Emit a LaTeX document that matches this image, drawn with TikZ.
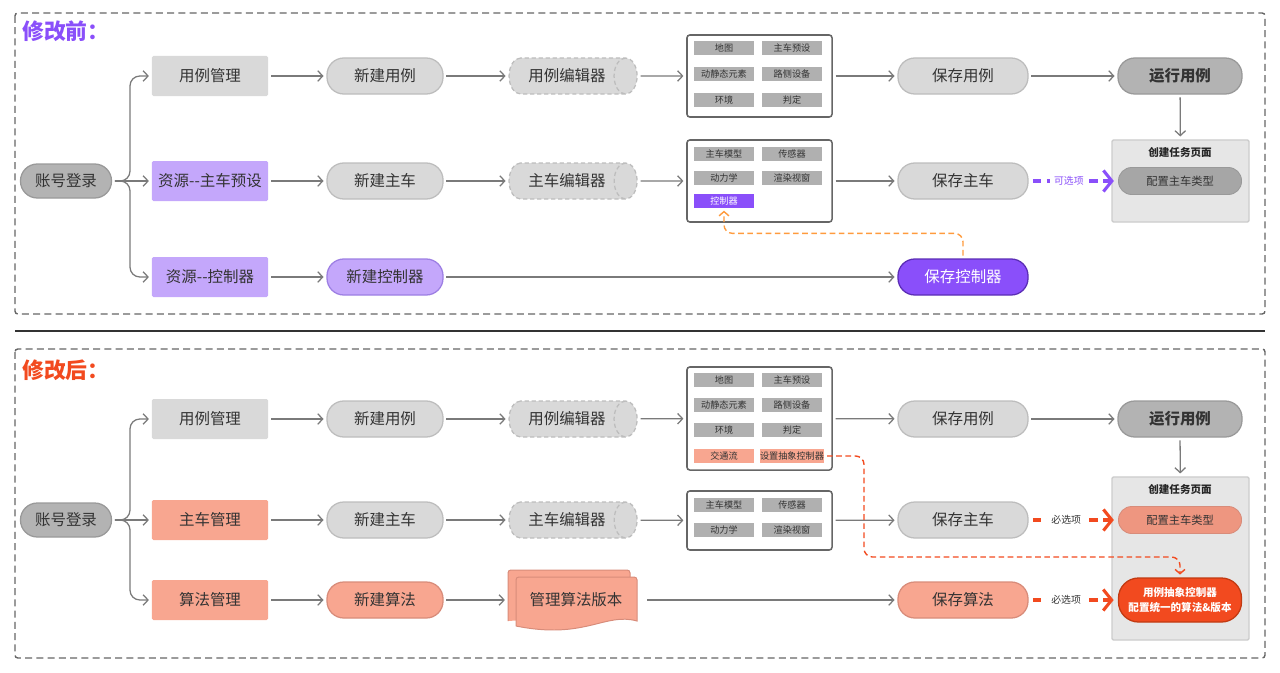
\documentclass[tikz,border=0pt]{standalone}
\usepackage{fontspec}
\usepackage{xcolor}
\usepackage{tikz}
\usetikzlibrary{shapes,arrows.meta,positioning,calc}
\newfontfamily\cjk{Noto Sans CJK SC}

\definecolor{lgray}{HTML}{D9D9D9}
\definecolor{lgrayline}{HTML}{BDBDBD}
\definecolor{dgray}{HTML}{B3B3B3}
\definecolor{dgrayline}{HTML}{999999}
\definecolor{itemgray}{HTML}{B0B0B0}
\definecolor{panelgray}{HTML}{E6E6E6}
\definecolor{lpurple}{HTML}{C4A7FB}
\definecolor{purpleline}{HTML}{9D7FE3}
\definecolor{vpurple}{HTML}{8A4FFA}
\definecolor{vpurpleline}{HTML}{5B2DB5}
\definecolor{salmon}{HTML}{F8A690}
\definecolor{salmonline}{HTML}{D88C7A}
\definecolor{salmondark}{HTML}{EE9680}
\definecolor{vred}{HTML}{F24A1F}
\definecolor{vredline}{HTML}{C23A12}
\definecolor{orangeline}{HTML}{FF9B3D}
\definecolor{txt}{HTML}{333333}
\definecolor{conngray}{HTML}{7A7A7A}

\tikzset{
  base/.style={font=\cjk\fontsize{11}{13}\selectfont, text=txt, inner sep=0pt},
  mgrbox/.style={base, rectangle, rounded corners=1pt, minimum width=2.9cm, minimum height=1cm, fill=lgray},
  pill/.style={base, rectangle, rounded corners=0.42cm, minimum width=2.9cm, minimum height=0.9cm, draw=lgrayline, line width=0.9pt, fill=lgray},
  darkpill/.style={pill, fill=dgray, draw=dgrayline},
  editor/.style={base, cylinder, shape aspect=1.6, minimum height=3.2cm, minimum width=0.9cm, draw=lgrayline, line width=0.9pt, dash pattern=on 3pt off 2pt, fill=lgray},
  gridbox/.style={draw=black!60, line width=1.1pt, rounded corners=2pt, fill=white, minimum width=3.625cm},
  item/.style={font=\cjk\fontsize{6.5}{8}\selectfont, text=txt, fill=itemgray, minimum width=1.5cm, minimum height=0.33cm, inner sep=0pt},
  panel/.style={fill=panelgray, draw=black!20, line width=1pt, rounded corners=1pt, minimum width=3.425cm},
  paneltitle/.style={font=\cjk\bfseries\fontsize{7.5}{9}\selectfont, text=black!85},
  innerpill/.style={font=\cjk\fontsize{8}{10}\selectfont, text=txt, rectangle, rounded corners=0.33cm, minimum width=3.075cm, minimum height=0.675cm, draw=dgrayline, line width=0.6pt, inner sep=0pt},
  title/.style={font=\cjk\bfseries\fontsize{15.5}{18}\selectfont, anchor=west, inner sep=0pt},
  frame/.style={draw=black!60, line width=1pt, dash pattern=on 5pt off 3pt, rounded corners=2pt},
  conn/.style={draw=conngray, line width=0.9pt, -{Straight Barb[length=3.5pt,width=7.5pt]}, shorten >=2pt, shorten <=2pt},
  choice/.style={line width=2.2pt, dash pattern=on 6pt off 4pt, shorten <=3pt, shorten >=6pt},
  choicehead/.style={line width=2.2pt, -{Straight Barb[length=6pt,width=15pt,line width=2.2pt]}, shorten >=3pt},
  choicelabel/.style={font=\cjk\fontsize{7}{9}\selectfont, fill=white, inner sep=3pt},
  hint/.style={line width=1pt, dash pattern=on 4pt off 2.5pt, rounded corners=6pt, -{Straight Barb[length=3pt,width=7pt]}, shorten <=2pt, shorten >=2pt}
}

\begin{document}
\begin{tikzpicture}[x=0.025cm, y=-0.025cm]
        \useasboundingbox (0,0) rectangle (1280,672);

        % Frames
        \draw[frame] (15,13) rectangle (1265,314);
        \draw[frame] (15,349) rectangle (1265,658);
        \draw[line width=1.1pt, black!80] (15,331) -- (1265,331);

        %%%%% Before %%%%%
        \node[title, text=vpurple] (titlea) at (22,31) {修改前：};

        % Login and managers
        \node[darkpill, minimum width=2.275cm, minimum height=0.85cm] (logina) at (66,181) {账号登录};
        \node[mgrbox] (casemgra) at (210,76) {用例管理};
        \node[mgrbox, fill=lpurple] (carmgra) at (210,181) {资源{-}{-}主车预设};
        \node[mgrbox, fill=lpurple] (ctlmgra) at (210,277) {资源{-}{-}控制器};

        % New
        \node[pill] (newcasea) at (385,76) {新建用例};
        \node[pill] (newcara) at (385,181) {新建主车};
        \node[pill, fill=lpurple, draw=purpleline] (newctla) at (385,277) {新建控制器};

        % Editors
        \node[editor] (caseedita) at (567,76) {用例编辑器};
        \node[editor] (caredita) at (567,181) {主车编辑器};

        % Case editor contents
        \node[gridbox, minimum height=2.05cm] (casegrida) at (759.5,76) {};
        \node[item] at (724,48) {地图};
        \node[item] at (792,48) {主车预设};
        \node[item] at (724,74) {动静态元素};
        \node[item] at (792,74) {路侧设备};
        \node[item] at (724,100) {环境};
        \node[item] at (792,100) {判定};

        % Car editor contents
        \node[gridbox, minimum height=2.05cm] (cargrida) at (759.5,181) {};
        \node[item] at (724,154) {主车模型};
        \node[item] at (792,154) {传感器};
        \node[item] at (724,178) {动力学};
        \node[item] at (792,178) {渲染视窗};
        \node[item, fill=vpurple, text=white] (ctlitema) at (724,201) {控制器};

        % Save and run
        \node[pill, minimum width=3.25cm] (savecasea) at (963,76) {保存用例};
        \node[pill, minimum width=3.25cm] (savecara) at (963,181) {保存主车};
        \node[pill, minimum width=3.25cm, fill=vpurple, draw=vpurpleline, text=white] (savectla) at (963,277) {保存控制器};
        \node[darkpill, minimum width=3.1cm, font=\cjk\bfseries\fontsize{11}{13}\selectfont] (runa) at (1180,76) {运行用例};

        % Task page
        \node[panel, minimum height=2.05cm] (pagea) at (1180.5,181) {};
        \node[paneltitle] (pagetitlea) at (1180,152) {创建任务页面};
        \node[innerpill, fill=black!35] (cartypea) at (1180,181) {配置主车类型};

        % Connectors
        \draw[conn, rounded corners=7pt] (logina.east) -- (130,181) |- (casemgra.west);
        \draw[conn] (logina.east) -- (carmgra.west);
        \draw[conn, rounded corners=7pt] (logina.east) -- (130,181) |- (ctlmgra.west);
        \draw[conn] (casemgra) -- (newcasea);
        \draw[conn] (carmgra) -- (newcara);
        \draw[conn] (ctlmgra) -- (newctla);
        \draw[conn] (newcasea) -- (caseedita);
        \draw[conn] (newcara) -- (caredita);
        \draw[conn] (caseedita) -- (casegrida);
        \draw[conn] (caredita) -- (cargrida);
        \draw[conn] (casegrida) -- (savecasea);
        \draw[conn] (cargrida) -- (savecara);
        \draw[conn] (newctla) -- (savectla);
        \draw[conn] (savecasea) -- (runa);
        \draw[conn] (runa) -- (pagea);
        \draw[choice, vpurple] (savecara) -- (cartypea) node[pos=0.45, choicelabel, text=vpurple] {可选项};
        \draw[choicehead, vpurple] ([xshift=-8pt]cartypea.west) -- (cartypea.west);
        \draw[hint, orangeline] (savectla.north) -- ++(0,-25) -| (ctlitema.south);

        %%%%% After %%%%%
        \node[title, text=vred] (titleb) at (22,370) {修改后：};

        % Login and managers
        \node[darkpill, minimum width=2.275cm, minimum height=0.85cm] (loginb) at (66,520) {账号登录};
        \node[mgrbox] (casemgrb) at (210,419) {用例管理};
        \node[mgrbox, fill=salmon] (carmgrb) at (210,520) {主车管理};
        \node[mgrbox, fill=salmon] (algmgrb) at (210,600) {算法管理};

        % New
        \node[pill] (newcaseb) at (385,419) {新建用例};
        \node[pill] (newcarb) at (385,520) {新建主车};
        \node[pill, fill=salmon, draw=salmonline] (newalgb) at (385,600) {新建算法};

        % Editors
        \node[editor] (caseeditb) at (567,419) {用例编辑器};
        \node[editor] (careditb) at (567,520) {主车编辑器};

        % Algorithm versions (stacked documents)
        \draw[fill=salmon, draw=salmonline, line width=0.7pt, rounded corners=2pt]
            (508,621) -- (508,570) -- (630,570) -- (630,613);
        \draw[fill=salmon, draw=salmonline, line width=0.7pt]
            (516,626) [rounded corners=2pt] -- (516,577) -- (637,577) [sharp corners] -- (637,621)
            .. controls (605,612) and (585,640) .. (516,626);
        \node[base, minimum width=3.4cm, minimum height=1.5cm] (algverb) at (576,600) {管理算法版本};

        % Case editor contents
        \node[gridbox, minimum height=2.575cm] (casegridb) at (759.5,418.5) {};
        \node[item] at (724,380) {地图};
        \node[item] at (792,380) {主车预设};
        \node[item] at (724,405) {动静态元素};
        \node[item] at (792,405) {路侧设备};
        \node[item] at (724,430) {环境};
        \node[item] at (792,430) {判定};
        \node[item, fill=salmon] (trafficb) at (724,456) {交通流};
        \node[item, fill=salmon] (absctlb) at (792,456) {设置抽象控制器};

        % Car editor contents
        \node[gridbox, minimum height=1.475cm] (cargridb) at (759.5,520.5) {};
        \node[item] at (724,505) {主车模型};
        \node[item] at (792,505) {传感器};
        \node[item] at (724,530) {动力学};
        \node[item] at (792,530) {渲染视窗};

        % Save and run
        \node[pill, minimum width=3.25cm] (savecaseb) at (963,419) {保存用例};
        \node[pill, minimum width=3.25cm] (savecarb) at (963,520) {保存主车};
        \node[pill, minimum width=3.25cm, fill=salmon, draw=salmonline] (savealgb) at (963,600) {保存算法};
        \node[darkpill, minimum width=3.1cm, font=\cjk\bfseries\fontsize{11}{13}\selectfont] (runb) at (1180,419) {运行用例};

        % Task page
        \node[panel, minimum height=4.075cm] (pageb) at (1180.5,558.5) {};
        \node[paneltitle] (pagetitleb) at (1180,489) {创建任务页面};
        \node[innerpill, fill=salmondark, draw=salmonline] (cartypeb) at (1180,520) {配置主车类型};
        \node[innerpill, fill=vred, draw=vredline, line width=0.9pt, minimum height=1.1cm, rounded corners=0.5cm, text=white, align=center, font=\cjk\bfseries\fontsize{7.5}{11}\selectfont] (unifyb) at (1180,600) {用例抽象控制器\\配置统一的算法\&版本};

        % Connectors
        \draw[conn, rounded corners=7pt] (loginb.east) -- (130,520) |- (casemgrb.west);
        \draw[conn] (loginb.east) -- (carmgrb.west);
        \draw[conn, rounded corners=7pt] (loginb.east) -- (130,520) |- (algmgrb.west);
        \draw[conn] (casemgrb) -- (newcaseb);
        \draw[conn] (carmgrb) -- (newcarb);
        \draw[conn] (algmgrb) -- (newalgb);
        \draw[conn] (newcaseb) -- (caseeditb);
        \draw[conn] (newcarb) -- (careditb);
        \draw[conn] (newalgb) -- (algverb);
        \draw[conn] (caseeditb) -- (casegridb);
        \draw[conn] (careditb) -- (cargridb);
        \draw[conn] (casegridb) -- (savecaseb);
        \draw[conn] (cargridb) -- (savecarb);
        \draw[conn] (algverb) -- (savealgb);
        \draw[conn] (savecaseb) -- (runb);
        \draw[conn] (runb) -- (pageb);
        \draw[choice, vred] (savecarb) -- (cartypeb) node[pos=0.42, choicelabel, text=txt] {必选项};
        \draw[choicehead, vred] ([xshift=-8pt]cartypeb.west) -- (cartypeb.west);
        \draw[choice, vred] (savealgb) -- (unifyb) node[pos=0.42, choicelabel, text=txt] {必选项};
        \draw[choicehead, vred] ([xshift=-8pt]unifyb.west) -- (unifyb.west);
        \coordinate (bendb) at (864,557);
        \draw[hint, vred] (absctlb.east) -| (bendb) -| (unifyb.north);
    \end{tikzpicture}
\end{document}
